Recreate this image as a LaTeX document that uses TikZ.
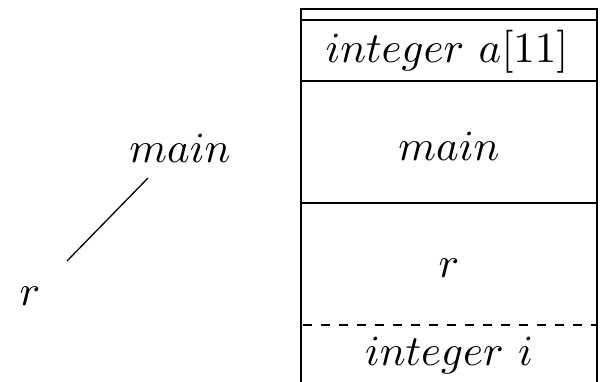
\documentclass[tikz,border=0pt]{standalone}
\begin{document}
\begin{tikzpicture}[x=1pt,y=-1pt,
  lbl/.style={scale=4.3, inner sep=0pt},
  rule/.style={line width=1.6pt},
  edge/.style={line width=1.3pt}]
\useasboundingbox (0,0) rectangle (602,382);
% left tree
\node[lbl] (m) at (180,148) {$main$};
\node[lbl] (r) at (30,296) {$r$};
\coordinate (e1) at (148,178);
\coordinate (e2) at (67,261);
\draw[edge] (e1) -- (e2);
% stack box
\coordinate (tl) at (301,9);
\coordinate (tr) at (597,9);
\coordinate (bl) at (301,390);
\coordinate (br) at (597,390);
\draw[rule] (bl) -- (tl) -- (tr) -- (br);
\draw[rule] (301,20) -- (597,20);
\draw[rule] (301,81) -- (597,81);
\draw[rule] (301,203) -- (597,203);
\draw[rule,dashed,dash pattern=on 9pt off 9pt] (303,325) -- (597,325);
\node[lbl] (a) at (447,52) {$integer\ a[11]$};
\node[lbl] (bm) at (449,146) {$main$};
\node[lbl] (br2) at (449,268) {$r$};
\node[lbl] (bi) at (449,355) {$integer\ i$};
\end{tikzpicture}
\end{document}
